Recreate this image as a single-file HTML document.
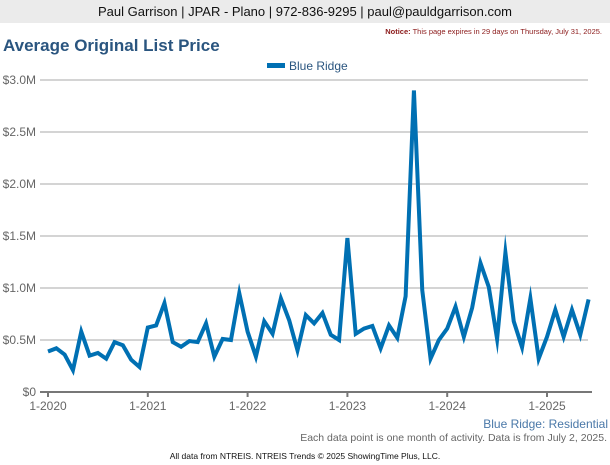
<!DOCTYPE html>
<html><head><meta charset="utf-8"><style>
body{margin:0;width:610px;height:465px;background:#fff;font-family:"Liberation Sans",Arial,sans-serif;overflow:hidden;position:relative}
.hdr{position:absolute;left:0;top:0;width:610px;height:23px;background:#ebebeb;font-size:13px;line-height:23px;text-align:center;color:#111}
.notice{position:absolute;right:8px;top:27px;font-size:7.5px;color:#8b1a1a}
.title{position:absolute;left:3px;top:36px;font-size:17px;font-weight:bold;color:#2a557f}
</style></head><body>
<div class="hdr">Paul Garrison | JPAR - Plano | 972-836-9295 | paul@pauldgarrison.com</div>
<div class="notice"><b>Notice:</b> This page expires in 29 days on Thursday, July 31, 2025.</div>
<div class="title">Average Original List Price</div>
<svg id="chart" width="610" height="465" style="position:absolute;left:0;top:0"></svg>
<script>
const yTickValues=[0,0.5,1.0,1.5,2.0,2.5,3.0];
const yTickLabels=["$0","$0.5M","$1.0M","$1.5M","$2.0M","$2.5M","$3.0M"];
const xTickLabels=["1-2020","1-2021","1-2022","1-2023","1-2024","1-2025"];
const xTickMonths=[0,12,24,36,48,60];
const seriesName="Blue Ridge";
const values=[
0.39,0.42,0.36,0.21,0.58,0.35,0.375,0.32,0.48,0.45,0.31,0.24,
0.62,0.64,0.855,0.48,0.435,0.49,0.48,0.66,0.34,0.51,0.50,0.95,
0.58,0.34,0.68,0.56,0.90,0.69,0.40,0.74,0.66,0.76,0.55,0.50,
1.48,0.56,0.61,0.635,0.42,0.64,0.52,0.92,2.90,0.98,0.32,0.50,
0.61,0.82,0.53,0.81,1.24,1.01,0.51,1.34,0.68,0.43,0.90,0.32,
0.53,0.79,0.53,0.79,0.55,0.89];
const NS="http://www.w3.org/2000/svg";
const svg=document.getElementById('chart');
const x=m=>48+m*(547-48)/60;
const y=v=>392-v*104;
function mk(t,a,txt){const e=document.createElementNS(NS,t);for(const k in a)e.setAttribute(k,a[k]);if(txt!==undefined)e.textContent=txt;svg.appendChild(e);return e;}
yTickValues.forEach((v,i)=>{
 if(v>0){const g=mk('line',{x1:40,x2:588,y1:y(v),y2:y(v),stroke:'#aaa','stroke-width':1});
 
 }
 const t=mk('text',{x:36,y:y(v)+4,'text-anchor':'end','font-size':12,fill:'#666','font-family':'Liberation Sans, sans-serif'},yTickLabels[i]);
 
 
});
const ax=mk('line',{x1:40,x2:592,y1:392,y2:392,stroke:'#777','stroke-width':2});


xTickMonths.forEach((m,i)=>{
 const tk=mk('line',{x1:x(m),x2:x(m),y1:392,y2:397,stroke:'#777','stroke-width':2});
 
 
 const t=mk('text',{x:x(m),y:410,'text-anchor':'middle','font-size':12,fill:'#666','font-family':'Liberation Sans, sans-serif'},xTickLabels[i]);
 
 
});
const p=mk('polyline',{points:values.map((v,i)=>x(i)+','+y(v)).join(' '),fill:'none',stroke:'#0070b3','stroke-width':4,'stroke-linejoin':'miter','stroke-miterlimit':10});


const lg=mk('rect',{x:267,y:63,width:18,height:5,fill:'#0070b3'});


const lt=mk('text',{x:289,y:70,'font-size':12,fill:'#2a557f','font-family':'Liberation Sans, sans-serif'},seriesName);


const s1=mk('text',{x:608,y:428,'text-anchor':'end','font-size':12,fill:'#4a78a8','font-family':'Liberation Sans, sans-serif'},'Blue Ridge: Residential');


const s2=mk('text',{x:607,y:441,'text-anchor':'end','font-size':10.5,fill:'#666','font-family':'Liberation Sans, sans-serif'},'Each data point is one month of activity. Data is from July 2, 2025.');


const s3=mk('text',{x:305,y:459,'text-anchor':'middle','font-size':8.5,fill:'#111','font-family':'Liberation Sans, sans-serif'},'All data from NTREIS. NTREIS Trends © 2025 ShowingTime Plus, LLC.');


</script>
</body></html>
